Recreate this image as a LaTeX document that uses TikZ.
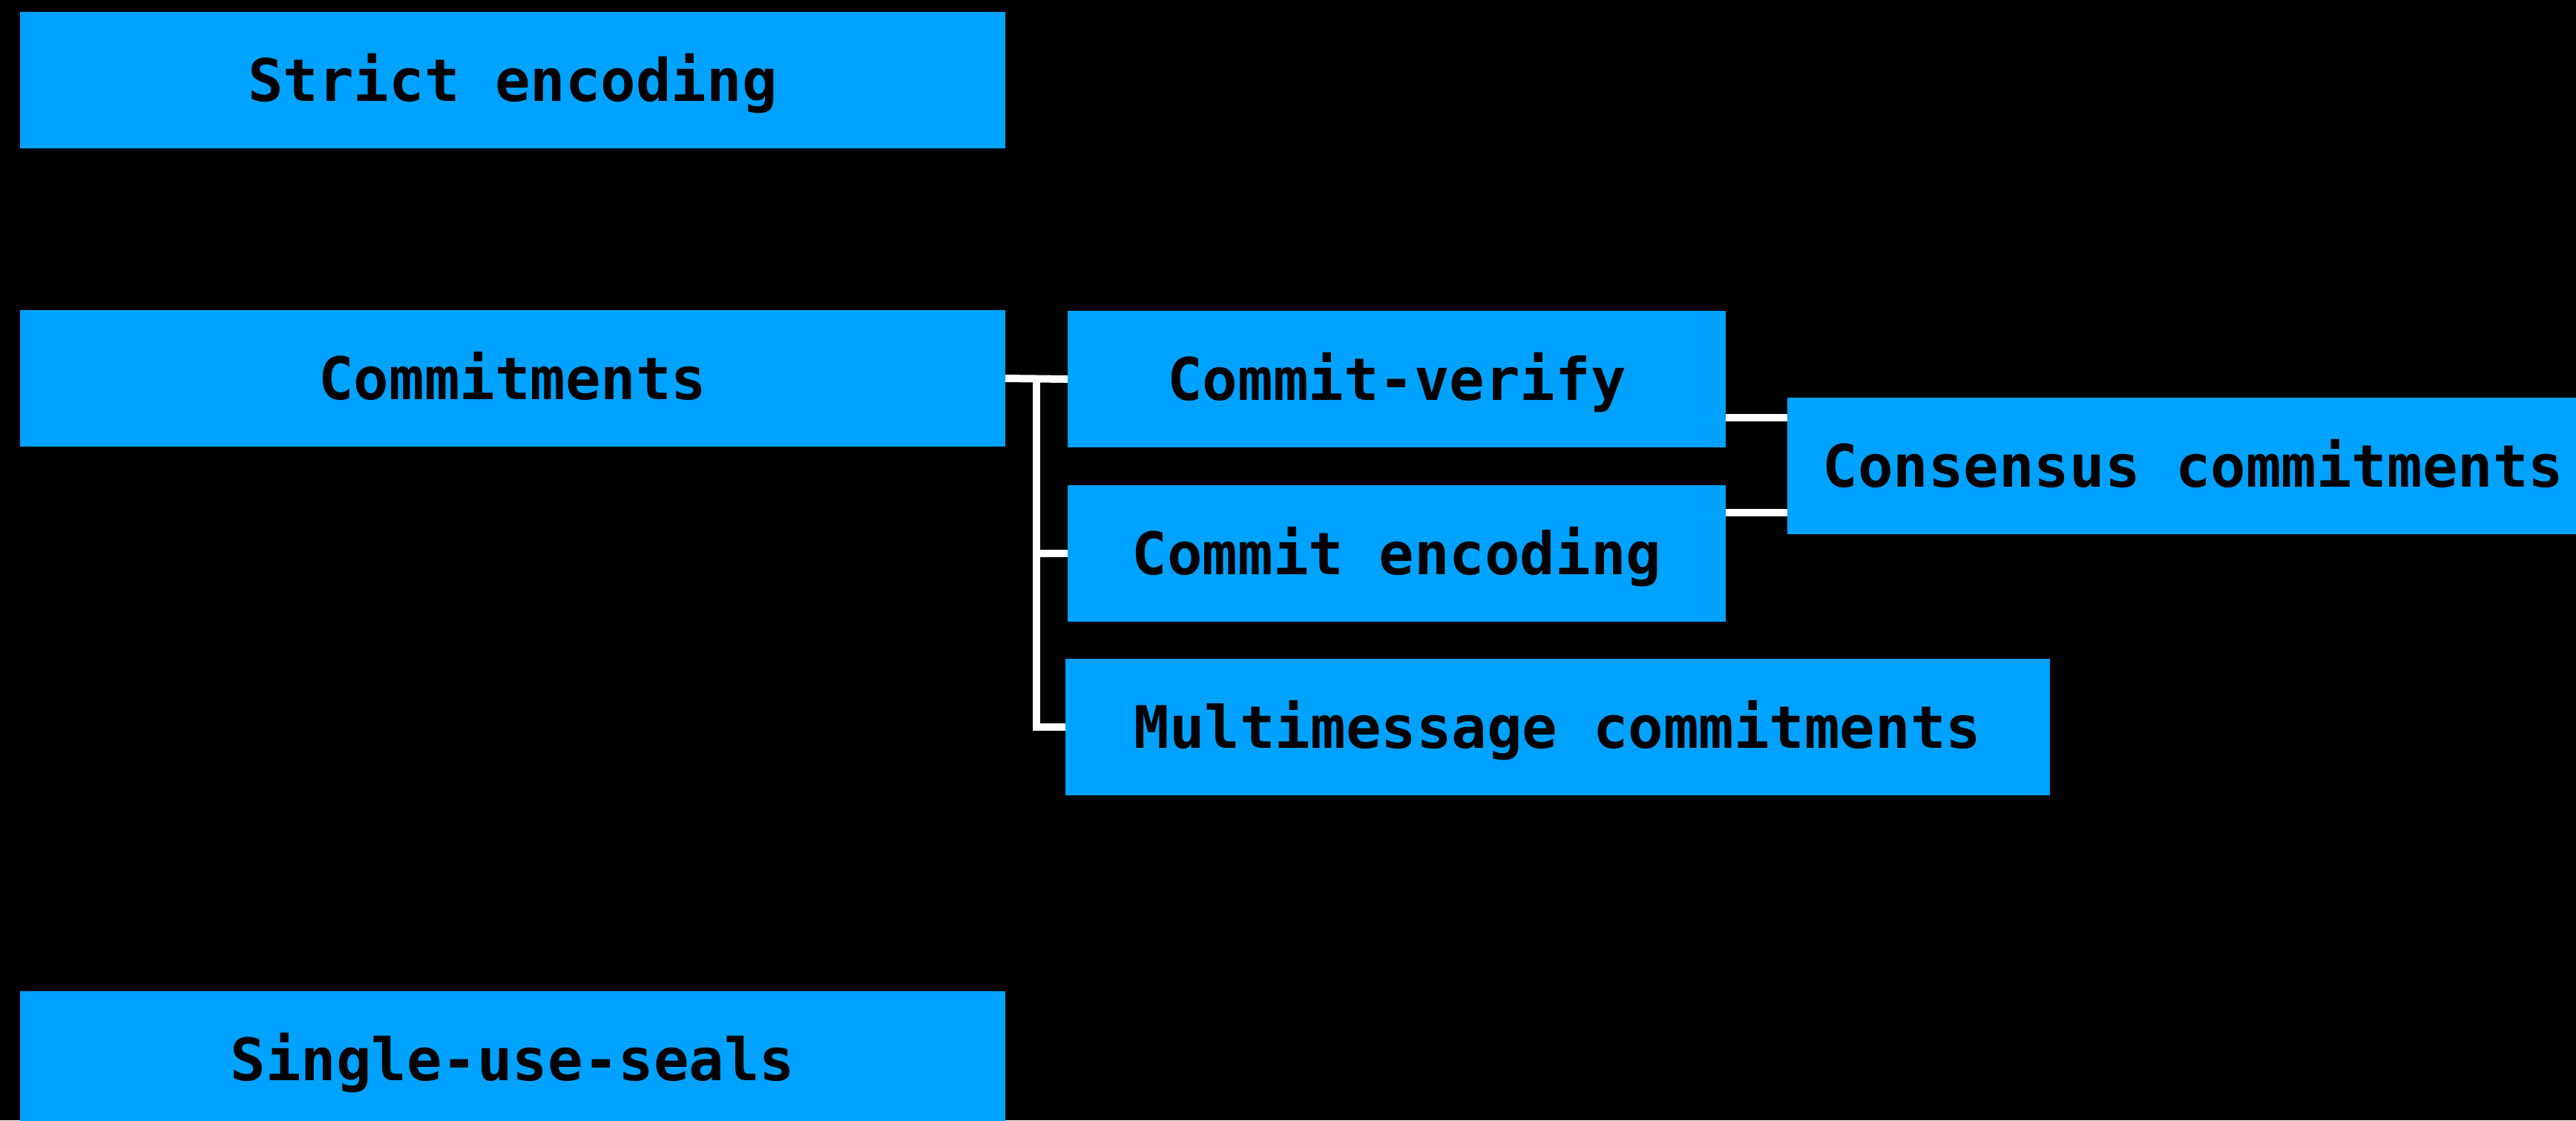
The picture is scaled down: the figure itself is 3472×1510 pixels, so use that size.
\documentclass[tikz,border=0pt]{standalone}
\usepackage{fontspec}
\setmonofont{DejaVu Sans Mono}
\usetikzlibrary{calc}
\definecolor{boxblue}{HTML}{00A2FF}
\begin{document}
\begin{tikzpicture}[x=0.2pt,y=-0.2pt,
  blk/.style={fill=boxblue, draw=none, inner sep=0pt, outer sep=0pt,
    text=black, font=\ttfamily\bfseries\fontsize{15.8}{19}\selectfont,
    text height=11.4pt, text depth=0pt, minimum height=36.8pt},
  link/.style={draw=white, line width=2pt, line join=miter}]
% canvas
\fill[black] (0,0) rectangle (3472,1510);
\clip (0,0) rectangle (3472,1510);

% blocks
\node[blk, minimum width=265.6pt] (strict) at (691,108) {Strict encoding};
\node[blk, minimum width=265.6pt] (commit) at (691,510) {Commitments};
\node[blk, minimum width=265.6pt] (seals)  at (691,1428) {Single-use-seals};
\node[blk, minimum width=177.4pt] (cv) at (1882.5,511) {Commit-verify};
\node[blk, minimum width=177.4pt] (ce) at (1882.5,746) {Commit encoding};
\node[blk, minimum width=265.4pt] (mm) at (2099.5,979.5) {Multimessage commitments};
\node[blk, minimum width=218.8pt] (cc) at (2956,628) {Consensus commitments};

% tree from Commitments to its parts
\coordinate (jn) at ($(commit.east)!0.5!(cv.west)$);
\draw[link] (commit.east) -- (cv.west);
\draw[link] (jn) |- (ce.west);
\draw[link] (jn) |- (mm.west);

% links into Consensus commitments
\coordinate (ua) at ($(cc.north west)!0.147!(cc.south west)$);
\coordinate (ub) at ($(cc.north west)!0.842!(cc.south west)$);
\draw[link] (cv.east |- ua) -- (ua);
\draw[link] (ce.east |- ub) -- (ub);
\end{tikzpicture}
\end{document}
